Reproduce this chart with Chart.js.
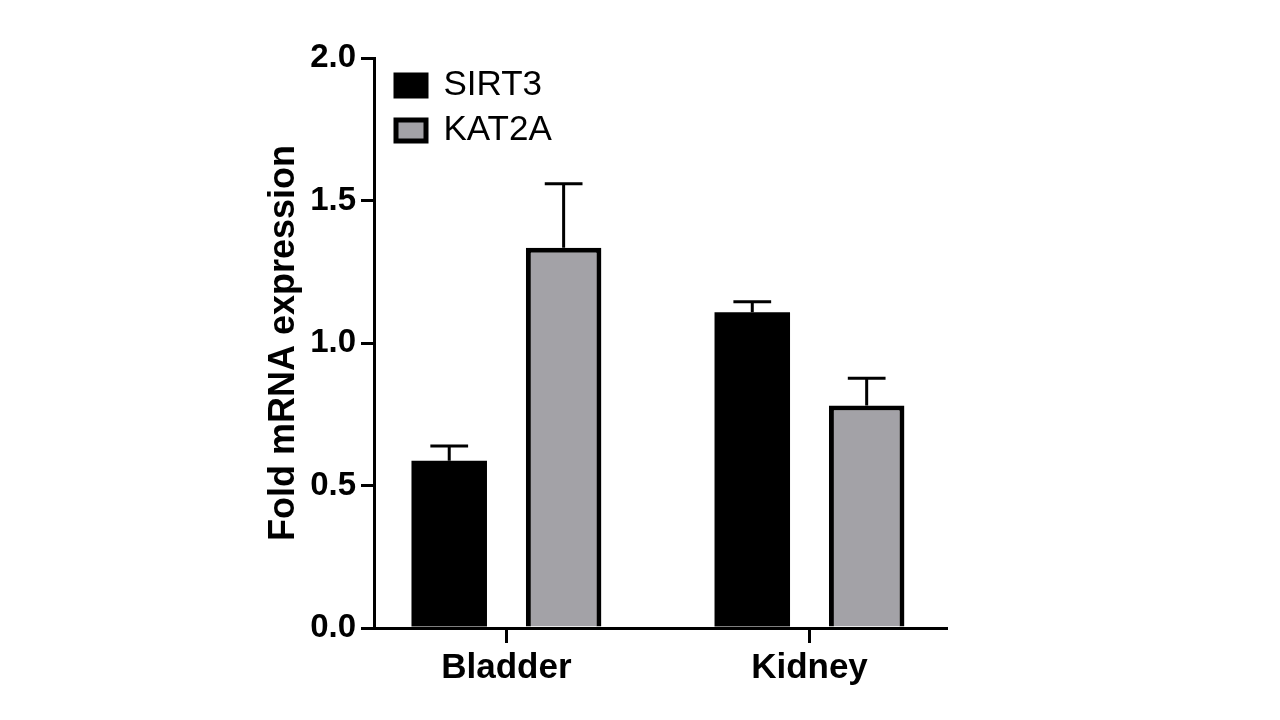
<!DOCTYPE html>
<html><head><meta charset="utf-8">
<script src="https://cdn.jsdelivr.net/npm/chart.js@4"></script>
<style>html,body{margin:0;padding:0;background:#fff;overflow:hidden;}</style>
</head><body>
<canvas id="c" width="1280" height="720" style="width:1280px;height:720px;display:block"></canvas>
<script>
const categories = ['Bladder', 'Kidney'];
const seriesNames = ['SIRT3', 'KAT2A'];
const sirt3Values = [0.587, 1.108];
const sirt3Errors = [0.052, 0.037];
const kat2aValues = [1.334, 0.781];
const kat2aErrors = [0.225, 0.095];
const yTicks = [0, 0.5, 1.0, 1.5, 2.0];
const yTitle = 'Fold mRNA expression';

const FONT = "'Liberation Sans', Arial, sans-serif";

const errorBars = {
  id: 'errorBars',
  afterDatasetsDraw(chart) {
    const ctx = chart.ctx;
    const y = chart.scales.y;
    chart.data.datasets.forEach((ds, di) => {
      const meta = chart.getDatasetMeta(di);
      meta.data.forEach((el, i) => {
        const top = y.getPixelForValue(ds.data[i].y + ds.errors[i]);
        ctx.save();
        ctx.strokeStyle = '#000';
        ctx.lineWidth = 3;
        ctx.beginPath();
        ctx.moveTo(el.x, el.y);
        ctx.lineTo(el.x, top);
        ctx.moveTo(el.x - el.width / 4, top);
        ctx.lineTo(el.x + el.width / 4, top);
        ctx.stroke();
        ctx.restore();
      });
    });
  }
};

const legendShift = {
  id: 'legendShift',
  afterLayout(chart) {
    const lg = chart.legend;
    if (lg) {
      const h = lg.bottom - lg.top;
      lg.left += 12; lg.right += 12;
      lg.top = chart.chartArea.top; lg.bottom = lg.top + h;
    }
  }
};

new Chart(document.getElementById('c'), {
  type: 'bar',
  data: {
    datasets: [
      {
        label: seriesNames[0],
        data: sirt3Values.map((v, i) => ({x: i, y: v})),
        errors: sirt3Errors,
        backgroundColor: '#000000',
        borderColor: '#000000',
        borderWidth: 0
      },
      {
        label: seriesNames[1],
        data: kat2aValues.map((v, i) => ({x: i, y: v})),
        errors: kat2aErrors,
        backgroundColor: '#a3a2a7',
        borderColor: '#000000',
        borderWidth: 5
      }
    ]
  },
  options: {
    responsive: false,
    animation: false,
    devicePixelRatio: 1,
    categoryPercentage: 0.755,
    barPercentage: 0.66,
    layout: { padding: { top: 58, right: 334, bottom: 0, left: 0 } },
    plugins: {
      tooltip: { enabled: false },
      legend: {
        position: 'chartArea',
        align: 'start',
        labels: {
          boxWidth: 30,
          boxHeight: 21,
          padding: 10,
          color: '#000',
          font: { family: FONT, size: 35, weight: 'normal' },
          generateLabels(chart) {
            const items = Chart.defaults.plugins.legend.labels.generateLabels(chart);
            items.forEach(it => { it.lineWidth = 5; it.strokeStyle = '#000000'; });
            return items;
          }
        }
      }
    },
    scales: {
      x: {
        type: 'linear',
        offset: false,
        min: -0.437,
        max: 1.4505,
        afterBuildTicks(scale) { scale.ticks = categories.map((c, i) => ({value: i})); },
        afterFit(scale) { scale.height = 92; },
        grid: { drawOnChartArea: false, drawTicks: true, tickLength: 15, color: '#000', lineWidth: 3, offset: false },
        border: { display: true, color: '#000', width: 3 },
        ticks: {
          color: '#000',
          padding: 4,
          font: { family: FONT, size: 35, weight: 'bold' },
          callback: (v) => categories[v]
        }
      },
      y: {
        type: 'linear',
        min: 0,
        max: 2,
        afterBuildTicks(scale) { scale.ticks = yTicks.map(v => ({value: v})); },
        afterFit(scale) { scale.width = 374; },
        grid: { drawOnChartArea: false, drawTicks: true, tickLength: 13, color: '#000', lineWidth: 3 },
        border: { display: true, color: '#000', width: 3 },
        ticks: {
          color: '#000',
          padding: 5,
          font: { family: FONT, size: 33, weight: 'bold' },
          callback: (v) => Number(v).toFixed(1)
        },
        title: {
          display: true,
          text: yTitle,
          color: '#000',
          padding: { top: 262, bottom: 0 },
          font: { family: FONT, size: 36, weight: 'bold' }
        }
      }
    }
  },
  plugins: [errorBars, legendShift]
});
</script>
</body></html>
